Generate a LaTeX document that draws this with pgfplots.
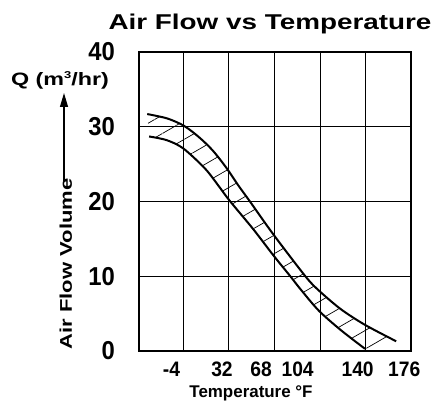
\documentclass[border=0pt]{standalone}
\usepackage{pgfplots}
\pgfplotsset{compat=1.18}
\usepgfplotslibrary{fillbetween}
\usetikzlibrary{patterns.meta,arrows.meta}
\usepackage{fontspec}
\setmainfont{Liberation Sans}
\newfontfamily\widesf[FakeStretch=1.3]{Liberation Sans}
\newfontfamily\narrowsf[FakeStretch=0.92]{Liberation Sans}

\begin{document}
\begin{tikzpicture}
\begin{axis}[
  at={(0,0)}, anchor=south west,
  scale only axis, width=272bp, height=299bp,
  xmin=-39, xmax=176, ymin=0, ymax=40,
  axis line style={line width=1.2bp},
  xtick={-13.3,26.6,57.5,86.4,133.8,170.6},
  xticklabels={-4,32,68,104,140,176},
  minor xtick={-4,32,68,104,140},
  ytick={0,10,20,30,40},
  yticklabels={0,10,20,30,40},
  xminorgrids=true, ymajorgrids=true, xmajorgrids=false,
  grid style={black, line width=0.8bp},
  minor grid style={black, line width=0.8bp},
  major tick length=0pt, minor tick length=0pt,
  xticklabel style={font=\narrowsf\fontsize{21}{24}\selectfont\bfseries, anchor=north, inner sep=0pt, yshift=-11bp},
  yticklabel style={font=\narrowsf\fontsize{26}{28}\selectfont\bfseries, anchor=east, inner sep=0pt, xshift=-24bp},
]
\addplot[name path=up, line width=2bp, smooth, black] coordinates {
(-32.5,31.7) (-16.5,31.1) (-3.2,30.1) (8.8,28.55) (19.4,26.8) (30.1,24.5) (39.3,22.2) (48.7,20.0) (67.2,15.6) (92.5,10.0) (103.1,8.1) (120.5,5.6) (139.6,3.5) (164.3,1.3)
};
\addplot[name path=lo, line width=2bp, smooth, black] coordinates {
(-31,28.7) (-17,28.2) (-4,27.1) (12.7,24.5) (22.1,22.5) (32.7,20.1) (51.3,16.3) (67.2,12.8) (80.6,10.0) (88.5,8.3) (103.1,5.4) (120.5,2.8) (139.6,0.3)
};
\addplot[draw=none, pattern={Lines[angle=30,distance=16bp,line width=0.7bp]}, pattern color=black] fill between[of=up and lo];
\end{axis}
\node[anchor=base, font={\widesf\bfseries\fontsize{21.5}{25}\selectfont}] at (131bp,321bp) {Air Flow vs Temperature};
\node[anchor=base, font={\bfseries\fontsize{17}{20}\selectfont}] at (112bp,-46bp) {Temperature °F};
\node[anchor=base, rotate=90, font={\widesf\bfseries\fontsize{17}{20}\selectfont}] at (-67bp,87bp) {Air Flow Volume};
\draw[line width=1.2bp, -{Triangle[length=14bp,width=8bp]}] (-75bp,170bp) -- (-75bp,258bp);
\node[anchor=base, font={\widesf\bfseries\fontsize{18}{22}\selectfont}] at (-79bp,265bp) {Q (m\raisebox{7bp}{\fontsize{10}{10}\selectfont 3}/hr)};
\pgfresetboundingbox
\path[use as bounding box] (-139bp,-61bp) rectangle (296bp,351bp);
\end{tikzpicture}
\end{document}
